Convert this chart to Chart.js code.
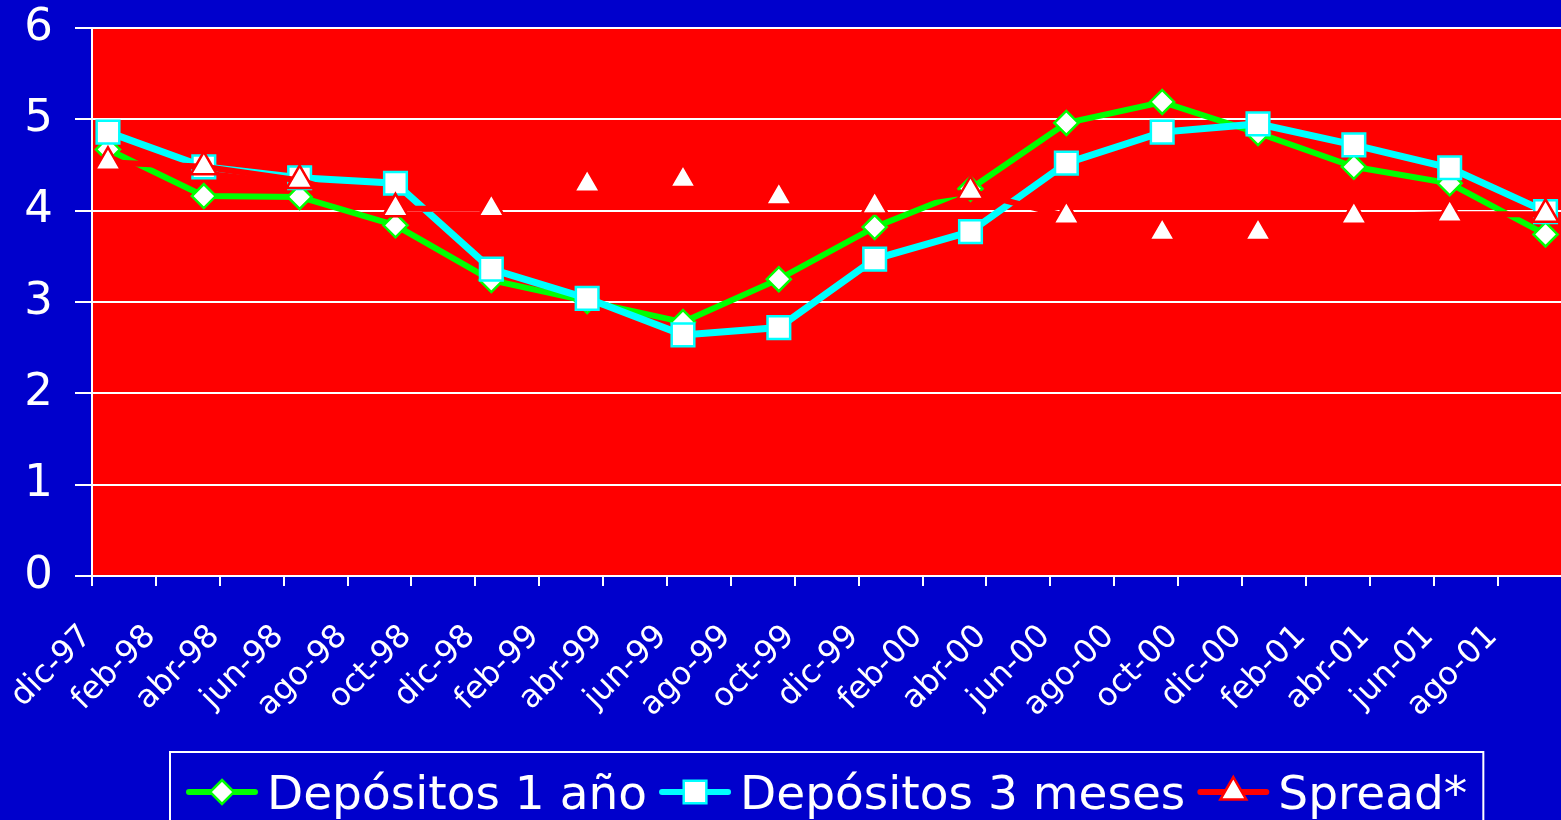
<!DOCTYPE html>
<html lang="es">
<head>
<meta charset="utf-8">
<title>Depósitos y spread</title>
<script src="https://cdn.jsdelivr.net/npm/chart.js"></script>
<style>
  html, body { margin: 0; padding: 0; background: #0000cc; overflow: hidden; }
  canvas { display: block; }
</style>
</head>
<body>
<canvas id="tasasChart" width="1580" height="840"></canvas>
<script>
// etiquetas del eje X (cada dos meses)
const etiquetasMeses = ['dic-97', 'feb-98', 'abr-98', 'jun-98', 'ago-98', 'oct-98', 'dic-98',
  'feb-99', 'abr-99', 'jun-99', 'ago-99', 'oct-99', 'dic-99', 'feb-00', 'abr-00', 'jun-00',
  'ago-00', 'oct-00', 'dic-00', 'feb-01', 'abr-01', 'jun-01', 'ago-01'];

// meses transcurridos desde dic-97 de cada dato trimestral
const mesesDatos = [0, 3, 6, 9, 12, 15, 18, 21, 24, 27, 30, 33, 36, 39, 42, 45];

const depositos1Anio = [4.67, 4.16, 4.15, 3.84, 3.24, 3.01, 2.78, 3.25, 3.82, 4.24, 4.96, 5.19, 4.85, 4.48, 4.30, 3.74];
const depositos3Meses = [4.86, 4.48, 4.36, 4.30, 3.36, 3.04, 2.64, 2.72, 3.47, 3.77, 4.52, 4.86, 4.95, 4.72, 4.47, 3.99];
const spread = [4.53, 4.48, 4.33, 4.02, 4.02, 4.29, 4.34, 4.15, 4.05, 4.21, 3.94, 3.76, 3.76, 3.94, 3.96, 3.96];

const FUENTE = "'DejaVu Sans', sans-serif";
const AZUL = '#0000cc';
const ROJO = '#ff0000';

function puntos(valores) {
  return valores.map((v, i) => ({ x: mesesDatos[i], y: v }));
}

// dibuja el marcador de la leyenda con la misma geometría que Chart.js
function dibujarMarcador(ctx, estilo, r, x, y) {
  ctx.beginPath();
  if (estilo === 'rectRot') {
    ctx.moveTo(x, y - r); ctx.lineTo(x + r, y); ctx.lineTo(x, y + r); ctx.lineTo(x - r, y);
  } else if (estilo === 'rect') {
    const s = r * Math.SQRT1_2;
    ctx.rect(x - s, y - s, 2 * s, 2 * s);
  } else {
    const a = 2 * Math.PI / 3;
    ctx.moveTo(x, y - r);
    ctx.lineTo(x + Math.sin(a) * r, y - Math.cos(a) * r);
    ctx.lineTo(x + Math.sin(2 * a) * r, y - Math.cos(2 * a) * r);
  }
  ctx.closePath();
  ctx.fill();
  ctx.stroke();
}

const fondoPlugin = {
  id: 'fondo',
  beforeDraw(chart) {
    const { ctx, chartArea: a } = chart;
    ctx.save();
    ctx.fillStyle = AZUL;
    ctx.fillRect(0, 0, chart.width, chart.height);
    ctx.fillStyle = ROJO;
    ctx.fillRect(a.left, a.top, a.right - a.left, a.bottom - a.top);
    ctx.restore();
  }
};

const leyendaPlugin = {
  id: 'leyendaCaja',
  afterDraw(chart) {
    const { ctx, chartArea: a } = chart;
    const largoLinea = 72, hueco = 9, separacion = 12, margen = 16;
    ctx.save();
    ctx.font = '47px ' + FUENTE;
    const items = chart.data.datasets.map(ds => ({ ds, ancho: ctx.measureText(ds.label).width }));
    let total = margen * 2 + separacion * (items.length - 1);
    items.forEach(it => { total += largoLinea + hueco + it.ancho; });

    const x0 = Math.round((a.left + a.right) / 2 - total / 2);
    const y0 = a.bottom + 176;
    ctx.strokeStyle = '#ffffff';
    ctx.lineWidth = 2;
    ctx.strokeRect(x0, y0, total, 120);

    let x = x0 + margen;
    const yLinea = y0 + 40;
    items.forEach(it => {
      const ds = it.ds;
      ctx.strokeStyle = ds.borderColor;
      ctx.lineWidth = 6;
      ctx.lineCap = 'round';
      ctx.beginPath();
      ctx.moveTo(x + 3, yLinea);
      ctx.lineTo(x + largoLinea - 3, yLinea);
      ctx.stroke();

      ctx.fillStyle = ds.pointBackgroundColor;
      ctx.strokeStyle = ds.pointBorderColor;
      ctx.lineWidth = ds.pointBorderWidth;
      dibujarMarcador(ctx, ds.pointStyle, ds.pointRadius, x + largoLinea / 2, yLinea);

      ctx.fillStyle = '#ffffff';
      ctx.textBaseline = 'alphabetic';
      ctx.fillText(ds.label, x + largoLinea + hueco, yLinea + 17);
      x += largoLinea + hueco + it.ancho + separacion;
    });
    ctx.restore();
  }
};

document.addEventListener('DOMContentLoaded', function () {
  const ctx = document.getElementById('tasasChart').getContext('2d');

  // marcas del eje X en el borde entre meses, cada dos meses
  const marcasX = [];
  for (let m = -0.5; m <= 45.5; m += 2) marcasX.push(m);

  new Chart(ctx, {
    type: 'line',
    data: {
      datasets: [{
        label: 'Depósitos 1 año',
        data: puntos(depositos1Anio),
        borderColor: '#00ff00',
        borderWidth: 6,
        pointStyle: 'rectRot',
        pointRadius: 12,
        pointBackgroundColor: '#ffffff',
        pointBorderColor: '#00ff00',
        pointBorderWidth: 2.5,
        order: 3
      }, {
        label: 'Depósitos 3 meses',
        data: puntos(depositos3Meses),
        borderColor: '#00ffff',
        borderWidth: 7,
        pointStyle: 'rect',
        pointRadius: 16,
        pointBackgroundColor: '#ffffff',
        pointBorderColor: '#00ffff',
        pointBorderWidth: 2.5,
        order: 2
      }, {
        label: 'Spread*',
        data: puntos(spread),
        borderColor: ROJO,
        borderWidth: 6,
        pointStyle: 'triangle',
        pointRadius: 15,
        pointBackgroundColor: '#ffffff',
        pointBorderColor: ROJO,
        pointBorderWidth: 2.5,
        order: 1
      }]
    },
    options: {
      responsive: false,
      animation: false,
      devicePixelRatio: 1,
      layout: { padding: { top: 28, left: 0, right: 9, bottom: 84 } },
      plugins: {
        legend: { display: false },
        tooltip: { enabled: false }
      },
      scales: {
        x: {
          type: 'linear',
          min: -0.5,
          max: 45.5,
          afterBuildTicks: s => { s.ticks = marcasX.map(v => ({ value: v })); },
          afterFit: s => { s.height = 180; s.paddingLeft = 0; s.paddingRight = 0; },
          border: { color: '#ffffff', width: 2 },
          grid: { drawOnChartArea: false, color: '#ffffff', lineWidth: 2, tickLength: 10 },
          ticks: {
            autoSkip: false,
            minRotation: 45,
            maxRotation: 45,
            padding: 32,
            labelOffset: -5,
            color: '#ffffff',
            font: { family: FUENTE, size: 32 },
            callback: (v, i) => etiquetasMeses[i] || ''
          }
        },
        y: {
          min: 0,
          max: 6,
          afterFit: s => { s.width = 92; s.paddingTop = 0; s.paddingBottom = 0; },
          border: { color: '#ffffff', width: 2 },
          grid: { color: '#ffffff', lineWidth: 2, tickLength: 17 },
          ticks: {
            stepSize: 1,
            padding: 22,
            color: '#ffffff',
            font: { family: FUENTE, size: 45 }
          }
        }
      }
    },
    plugins: [fondoPlugin, leyendaPlugin]
  });
});
</script>
</body>
</html>
